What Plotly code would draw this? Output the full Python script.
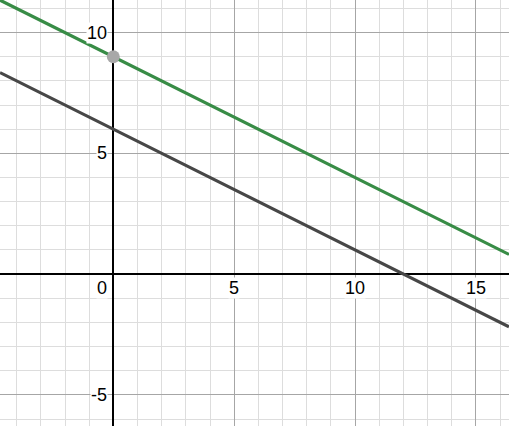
import plotly.graph_objects as go

# lines y = m*x + b
slope = -0.5
green_intercept = 9
dark_intercept = 6
x_ends = [-4.69, 16.37]

point_x = [0]
point_y = [9]

x_tick_vals = [5, 10, 15]
y_tick_vals = [-5, 5, 10]

fig = go.Figure()

fig.add_trace(go.Scatter(
    x=x_ends, y=[slope * x + dark_intercept for x in x_ends],
    mode="lines", line=dict(color="#474747", width=3.2), showlegend=False,
))
fig.add_trace(go.Scatter(
    x=x_ends, y=[slope * x + green_intercept for x in x_ends],
    mode="lines", line=dict(color="#388c46", width=3.2), showlegend=False,
))
fig.add_trace(go.Scatter(
    x=point_x, y=point_y, mode="markers",
    marker=dict(color="#a8a8a8", size=13), showlegend=False,
))

label_font = dict(family="Liberation Sans, Arial", size=18, color="black")
annotations = []
for v in x_tick_vals:
    annotations.append(dict(
        x=v, y=0, text=str(v), showarrow=False, xanchor="center", yanchor="top",
        yshift=-3, font=label_font, bgcolor="white", borderpad=0,
    ))
annotations.append(dict(
    x=0, y=0, text="0", showarrow=False, xanchor="right", yanchor="top",
    xshift=-5, yshift=-3, font=label_font, bgcolor="white", borderpad=0,
))
for v in y_tick_vals:
    annotations.append(dict(
        x=0, y=v, text=str(v), showarrow=False, xanchor="right", yanchor="middle",
        xshift=-5, font=label_font, bgcolor="white", borderpad=0,
    ))

axis_common = dict(
    showticklabels=False, ticks="",
    showgrid=True, gridcolor="#a6a6a6", gridwidth=1, dtick=5, tick0=0,
    minor=dict(showgrid=True, dtick=1, gridcolor="#dddddd", gridwidth=1),
    zeroline=True, zerolinecolor="black", zerolinewidth=2,
    showline=False, fixedrange=True,
)

fig.update_layout(
    width=509, height=426,
    margin=dict(l=0, r=0, t=0, b=0),
    paper_bgcolor="white", plot_bgcolor="white",
    xaxis=dict(range=[-4.69, 16.37], **axis_common),
    yaxis=dict(range=[-6.29, 11.35], **axis_common),
    annotations=annotations,
    hovermode=False,
)

fig.write_html(
    "out.html",
    config={"displayModeBar": False},
    post_script="document.body.style.margin='0';",
)
